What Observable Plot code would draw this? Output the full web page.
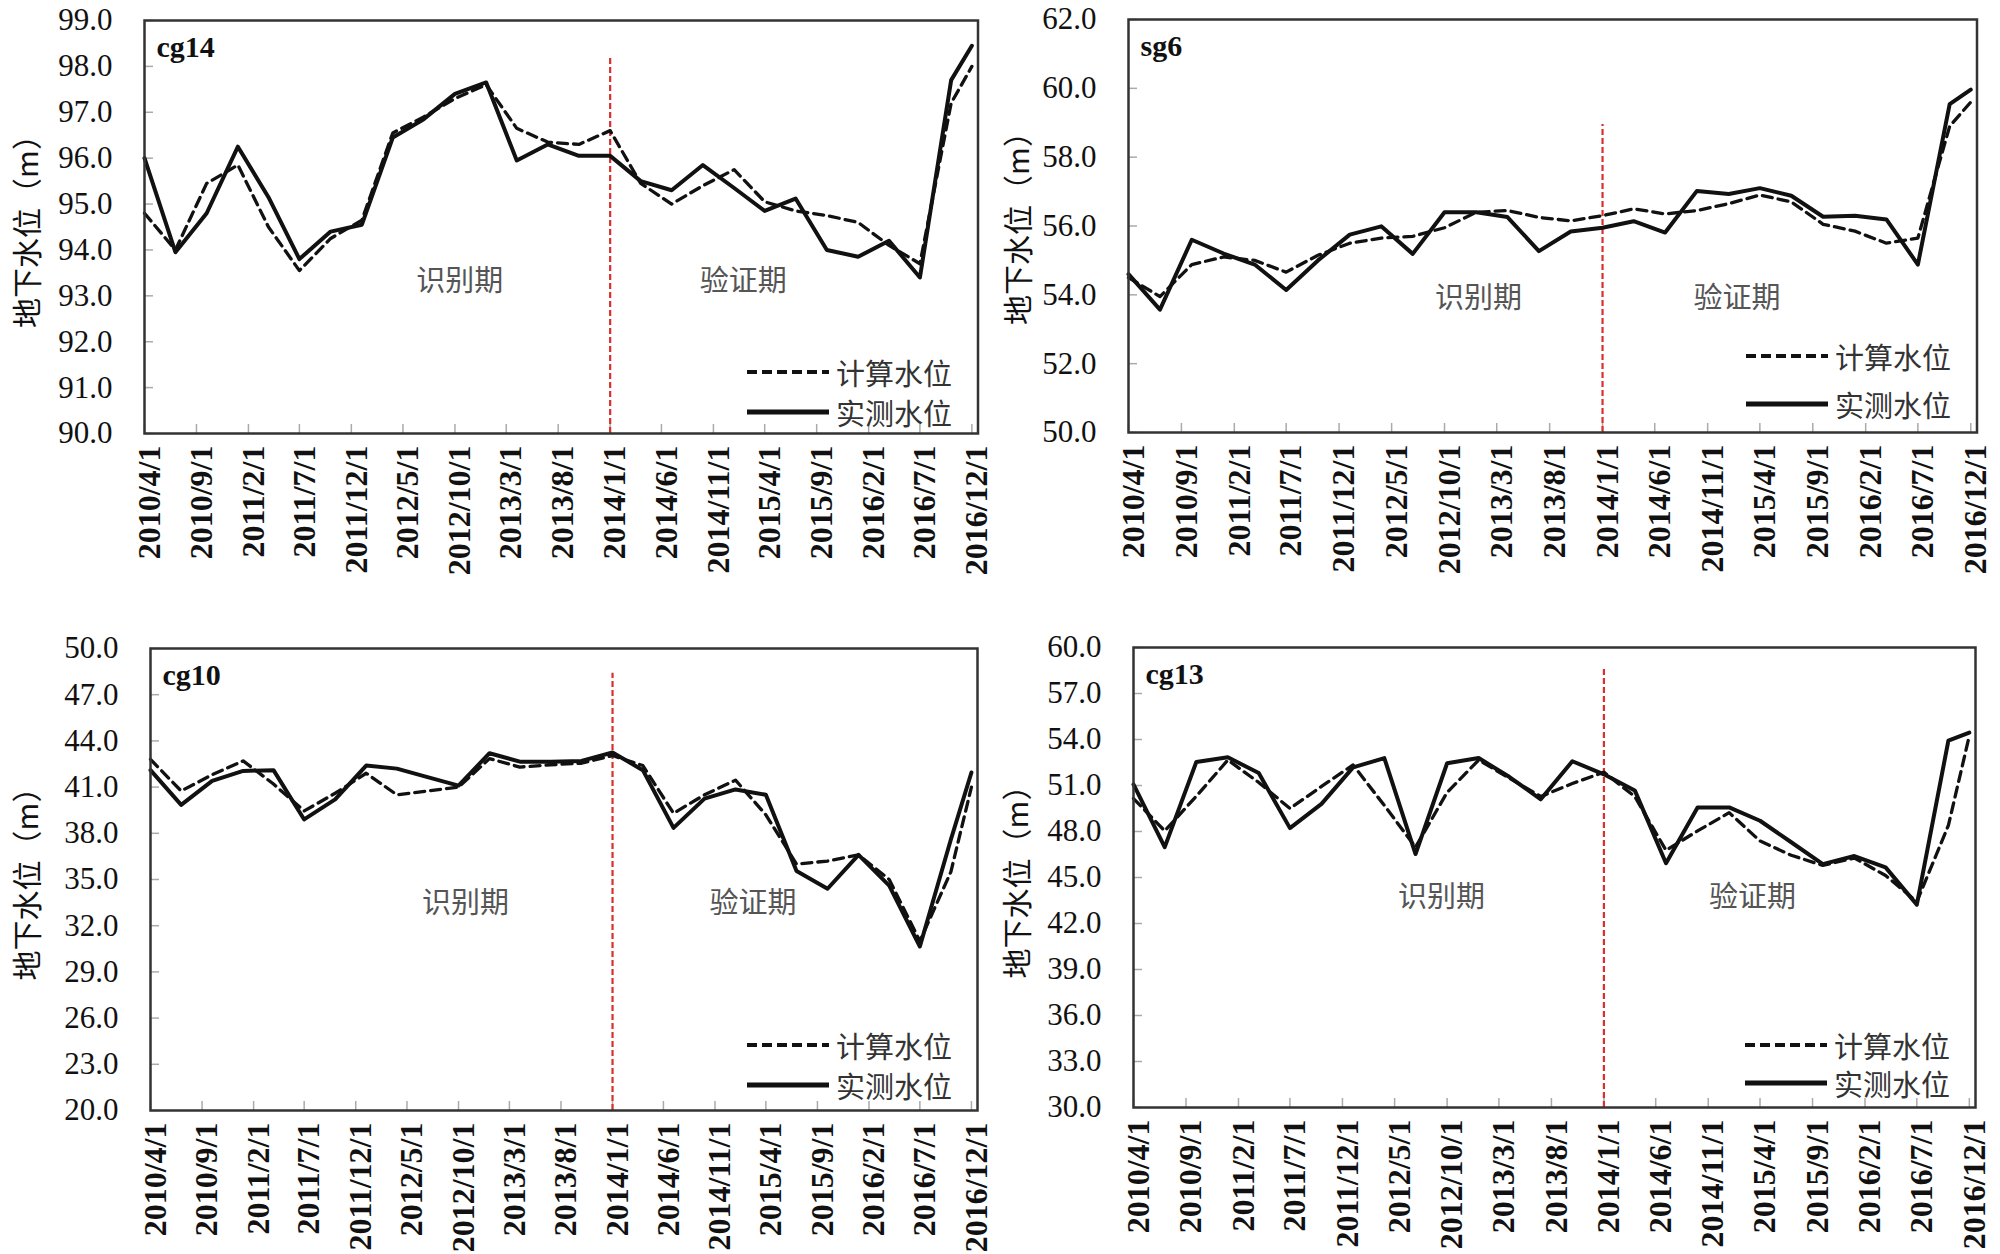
<!DOCTYPE html>
<html>
<head>
<meta charset="utf-8">
<script src="https://cdn.jsdelivr.net/npm/d3@7"></script>
<script src="https://cdn.jsdelivr.net/npm/@observablehq/plot@0.6"></script>
<style>
  html, body { margin: 0; padding: 0; background: #fff; }
  #page { position: relative; width: 2000px; height: 1254px; overflow: hidden; background: #fff; }
  .panel { position: absolute; }
  .legend { position: absolute; font-family: "Noto Sans CJK SC", sans-serif; font-size: 29px; color: #333; }
  .legend-row { position: absolute; left: 0; white-space: nowrap; display: flex; align-items: center; }
</style>
</head>
<body>
<div id="page"></div>
<script>
// ---------- data ----------
const dates = ["2010/4/1","2010/7/1","2010/10/1","2011/1/1","2011/4/1","2011/7/1","2011/10/1","2012/1/1","2012/4/1","2012/7/1","2012/10/1","2013/1/1","2013/4/1","2013/7/1","2013/10/1","2014/1/1","2014/4/1","2014/7/1","2014/10/1","2015/1/1","2015/4/1","2015/7/1","2015/10/1","2016/1/1","2016/4/1","2016/7/1","2016/10/1","2016/12/1"];
const xTickLabels = ["2010/4/1","2010/9/1","2011/2/1","2011/7/1","2011/12/1","2012/5/1","2012/10/1","2013/3/1","2013/8/1","2014/1/1","2014/6/1","2014/11/1","2015/4/1","2015/9/1","2016/2/1","2016/7/1","2016/12/1"];
const splitDate = "2014/1/1";
const seriesNames = ["计算水位", "实测水位"];
const periodNames = ["识别期", "验证期"];
const yTitle = "地下水位（m）";

const cg14Obs  = [96.0, 93.95, 94.8, 96.25, 95.15, 93.8, 94.4, 94.55, 96.45, 96.85, 97.4, 97.65, 95.95, 96.3, 96.05, 96.05, 95.5, 95.3, 95.85, 95.35, 94.85, 95.12, 94.0, 93.85, 94.2, 93.4, 97.7, 98.45];
const cg14Calc = [94.8, 94.0, 95.45, 95.85, 94.5, 93.55, 94.25, 94.65, 96.55, 96.9, 97.3, 97.6, 96.65, 96.35, 96.3, 96.6, 95.45, 95.0, 95.4, 95.75, 95.05, 94.85, 94.75, 94.6, 94.1, 93.7, 97.2, 98.0];
const sg6Obs   = [54.6, 53.57, 55.6, 55.2, 54.88, 54.14, 55.0, 55.75, 55.99, 55.19, 56.4, 56.4, 56.26, 55.27, 55.84, 55.95, 56.14, 55.81, 57.02, 56.93, 57.1, 56.88, 56.27, 56.3, 56.19, 54.88, 59.54, 59.96];
const sg6Calc  = [54.5, 53.95, 54.88, 55.1, 55.0, 54.66, 55.15, 55.5, 55.65, 55.7, 55.95, 56.4, 56.45, 56.25, 56.15, 56.3, 56.5, 56.35, 56.45, 56.65, 56.9, 56.7, 56.05, 55.85, 55.5, 55.65, 58.9, 59.6];
const cg10Obs  = [42.1, 39.85, 41.4, 42.05, 42.1, 38.9, 40.2, 42.4, 42.2, 41.65, 41.1, 43.2, 42.65, 42.65, 42.7, 43.25, 42.1, 38.35, 40.25, 40.85, 40.5, 35.55, 34.4, 36.6, 34.6, 30.65, 37.6, 41.95];
const cg10Calc = [42.8, 40.75, 41.8, 42.7, 41.2, 39.45, 40.6, 41.9, 40.5, 40.75, 41.0, 42.85, 42.3, 42.45, 42.55, 43.05, 42.4, 39.3, 40.5, 41.45, 39.2, 36.0, 36.2, 36.6, 35.0, 31.0, 35.5, 41.0];
const cg13Obs  = [51.07, 46.98, 52.53, 52.84, 51.81, 48.22, 49.8, 52.18, 52.79, 46.53, 52.45, 52.79, 51.55, 50.1, 52.58, 51.73, 50.68, 45.93, 49.57, 49.57, 48.7, 47.3, 45.87, 46.4, 45.66, 43.23, 53.93, 54.45];
const cg13Calc = [50.15, 48.04, 50.3, 52.66, 51.2, 49.5, 50.94, 52.34, 49.7, 46.98, 50.55, 52.66, 51.47, 50.28, 51.13, 51.87, 50.28, 46.77, 48.04, 49.23, 47.38, 46.45, 45.79, 46.27, 45.13, 43.42, 48.4, 54.24];

const cg14Ticks = [90, 91, 92, 93, 94, 95, 96, 97, 98, 99];
const sg6Ticks  = [50, 52, 54, 56, 58, 60, 62];
const cg10Ticks = [20, 23, 26, 29, 32, 35, 38, 41, 44, 47, 50];
const cg13Ticks = [30, 33, 36, 39, 42, 45, 48, 51, 54, 57, 60];

const stations = [
  {name: "cg14", obs: cg14Obs, calc: cg14Calc, ticks: cg14Ticks},
  {name: "sg6",  obs: sg6Obs,  calc: sg6Calc,  ticks: sg6Ticks},
  {name: "cg10", obs: cg10Obs, calc: cg10Calc, ticks: cg10Ticks},
  {name: "cg13", obs: cg13Obs, calc: cg13Calc, ticks: cg13Ticks}
];

// ---------- layout (pixel positions of each frame, annotation anchors) ----------
const layout = [
  {l: 143.5, r: 977, t: 20, b: 433, redTop: 98.2, noteX: ["2012/10/15","2015/1/28"], noteY: 93.3, titleX: 27, titleDy: -3, legA: 61, legB: 21},
  {l: 1127.5, r: 1976, t: 19, b: 432, redTop: 58.95, noteX: ["2013/1/7","2015/1/25"], noteY: 53.9, titleX: 1018, titleDy: -5, legA: 76, legB: 28},
  {l: 150, r: 977, t: 648, b: 1110, redTop: 48.4, noteX: ["2012/10/22","2015/2/22"], noteY: 33.4, titleX: 28, titleDy: -3, legA: 65, legB: 25},
  {l: 1133, r: 1975, t: 647, b: 1107, redTop: 58.6, noteX: ["2012/9/15","2015/3/10"], noteY: 43.7, titleX: 1018, titleDy: -3, legA: 62, legB: 24}
];

const parse = s => { const [y, m, d] = s.split("/").map(Number); return new Date(Date.UTC(y, m - 1, d)); };
const fmtDate = d => `${d.getUTCFullYear()}/${d.getUTCMonth() + 1}/${d.getUTCDate()}`;
const xDomain = [parse("2010/4/1"), parse("2016/12/19")];
const xTicks = xTickLabels.map(parse);

const page = document.getElementById("page");
const ML = 140, MR = 15, MT = 20, MB = 145;

stations.forEach((st, i) => {
  const L = layout[i];
  const fw = L.r - L.l, fh = L.b - L.t;
  const rows = dates.map((d, k) => ({date: parse(d), obs: st.obs[k], calc: st.calc[k]}));
  const yDomain = [st.ticks[0], st.ticks[st.ticks.length - 1]];
  const notes = periodNames.map((n, k) => ({label: n, x: parse(L.noteX[k]), y: L.noteY}));

  const chart = Plot.plot({
    width: ML + fw + MR,
    height: MT + fh + MB,
    marginLeft: ML, marginRight: MR, marginTop: MT, marginBottom: MB,
    style: {fontFamily: "'Liberation Serif', 'Times New Roman', serif", fontSize: "28px", color: "#111", background: "transparent", overflow: "visible"},
    x: {type: "utc", domain: xDomain, axis: null},
    y: {domain: yDomain, axis: null},
    marks: [
      Plot.tickX(xTicks, {x: d => d, stroke: "#aaa", strokeWidth: 1.5, insetTop: fh - 9}),
      Plot.tickY(st.ticks, {y: d => d, stroke: "#aaa", strokeWidth: 1.5, insetRight: fw - 9}),
      Plot.axisY({ticks: st.ticks, tickFormat: d => d.toFixed(1), tickSize: 0, tickPadding: 32, fontSize: 31, fill: "#111"}),
      Plot.axisX({ticks: xTicks, tickFormat: fmtDate, tickSize: 0, tickPadding: 12, tickRotate: -90, fontSize: 32, fontWeight: "bold", dx: 5, fill: "#111"}),
      Plot.text([yTitle], {frameAnchor: "left", dx: L.titleX - L.l, dy: L.titleDy, rotate: -90, textAnchor: "middle", fontSize: 30, fontFamily: "'Noto Sans CJK SC', sans-serif", fill: "#111"}),
      Plot.ruleX([parse(splitDate)], {x: d => d, y1: yDomain[0], y2: L.redTop, stroke: "#d8302c", strokeWidth: 2.2, strokeDasharray: "6,3"}),
      Plot.line(rows, {x: "date", y: "calc", stroke: "#111", strokeWidth: 3.3, strokeDasharray: "10,6"}),
      Plot.line(rows, {x: "date", y: "obs", stroke: "#111", strokeWidth: 4}),
      Plot.text(notes, {x: "x", y: "y", text: "label", fontSize: 29, fontFamily: "'Noto Sans CJK SC', sans-serif", fill: "#555"}),
      Plot.text([st.name], {frameAnchor: "top-left", dx: 12, dy: 15, textAnchor: "start", lineAnchor: "top", fontSize: 30, fontWeight: "bold", fill: "#111"}),
      Plot.frame({stroke: "#333", strokeWidth: 2.5})
    ]
  });

  const wrap = document.createElement("div");
  wrap.className = "panel";
  wrap.style.left = (L.l - ML) + "px";
  wrap.style.top = (L.t - MT) + "px";
  wrap.appendChild(chart);
  page.appendChild(wrap);

  // legend overlay inside the frame, bottom-right
  const leg = document.createElement("div");
  leg.className = "legend";
  leg.style.left = (L.r - 230) + "px";
  leg.style.top = "0px";
  const mkRow = (label, dash, yOff) => {
    const row = document.createElement("div");
    row.className = "legend-row";
    row.style.top = (L.b - yOff - 20) + "px";
    row.innerHTML = `<svg width="82" height="40" style="display:block"><line x1="0" x2="82" y1="20" y2="20" stroke="#111" stroke-width="${dash ? 4 : 5}" ${dash ? 'stroke-dasharray="10,5"' : ""}/></svg><span style="margin-left:7px;line-height:40px">${label}</span>`;
    return row;
  };
  leg.appendChild(mkRow(seriesNames[0], true, L.legA));
  leg.appendChild(mkRow(seriesNames[1], false, L.legB));
  page.appendChild(leg);
});
</script>
</body>
</html>
